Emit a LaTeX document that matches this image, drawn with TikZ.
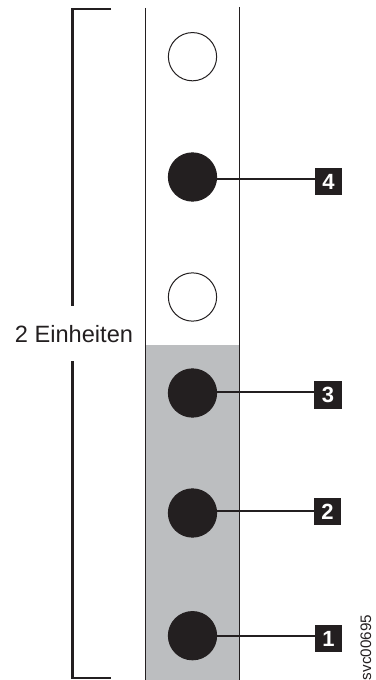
\documentclass[tikz,border=0pt]{standalone}
\usepackage{fontspec}
\setmainfont{Liberation Sans}
\definecolor{ink}{HTML}{231F20}
\definecolor{rackgray}{HTML}{BCBEC0}
\tikzset{
  hole/.style={circle,draw=ink,line width=0.75pt,fill=white,minimum size=36.2pt,inner sep=0pt},
  screw/.style={circle,draw=ink,line width=0.75pt,fill=ink,minimum size=36.2pt,inner sep=0pt},
  tag/.style={rectangle,fill=ink,text=white,font=\fontsize{16.5}{17}\selectfont\bfseries,minimum size=20.5pt,inner sep=0pt},
  leader/.style={draw=ink,line width=1.5pt},
  rail/.style={draw=ink,line width=0.75pt},
  brace/.style={draw=ink,line width=1.7pt}
}
\begin{document}
\begin{tikzpicture}[x=0.75pt,y=-0.75pt]
\useasboundingbox (0,0) rectangle (375,680);
\fill[rackgray] (145,345) rectangle (239.5,680);
\coordinate (r1a) at (145,8); \coordinate (r1b) at (145,680);
\coordinate (r2a) at (239.5,7); \coordinate (r2b) at (239.5,680);
\draw[rail] (r1a) -- (r1b);
\draw[rail] (r2a) -- (r2b);
\node[hole] (h1) at (192.5,56.7) {};
\node[screw] (s4) at (192.5,177) {};
\node[hole] (h2) at (192.5,297) {};
\node[screw] (s3) at (192.5,393) {};
\node[screw] (s2) at (192.5,513) {};
\node[screw] (s1) at (192.5,635.7) {};
\node[tag] (t4) at (328.5,181.5) {4};
\node[tag] (t3) at (328,395) {3};
\node[tag] (t2) at (327.5,511.8) {2};
\node[tag] (t1) at (328.5,638.5) {1};
\coordinate (c4) at (192.5,179); \coordinate (e4) at (t4.west |- c4);
\coordinate (c3) at (192.5,392); \coordinate (e3) at (t3.west |- c3);
\coordinate (c2) at (192.5,511); \coordinate (e2) at (t2.west |- c2);
\coordinate (c1) at (192.5,636); \coordinate (e1) at (t1.west |- c1);
\draw[leader] (c4) -- (e4);
\draw[leader] (c3) -- (e3);
\draw[leader] (c2) -- (e2);
\draw[leader] (c1) -- (e1);
\coordinate (b1) at (111,9); \coordinate (b2) at (72.5,9); \coordinate (b3) at (72.5,306);
\coordinate (b4) at (72.5,361); \coordinate (b5) at (72.5,678); \coordinate (b6) at (111,678);
\draw[brace] (b1) -- (b2) -- (b3);
\draw[brace] (b4) -- (b5) -- (b6);
\node[inner sep=0pt,text=ink,font=\fontsize{17.7}{20}\selectfont,anchor=center] (lbl) at (74,334) {2 Einheiten};
\node[inner sep=0pt,text=ink,rotate=90,font=\fontsize{11.4}{13}\selectfont,anchor=center] (code) at (366,647.5) {svc00695};
\end{tikzpicture}
\end{document}
